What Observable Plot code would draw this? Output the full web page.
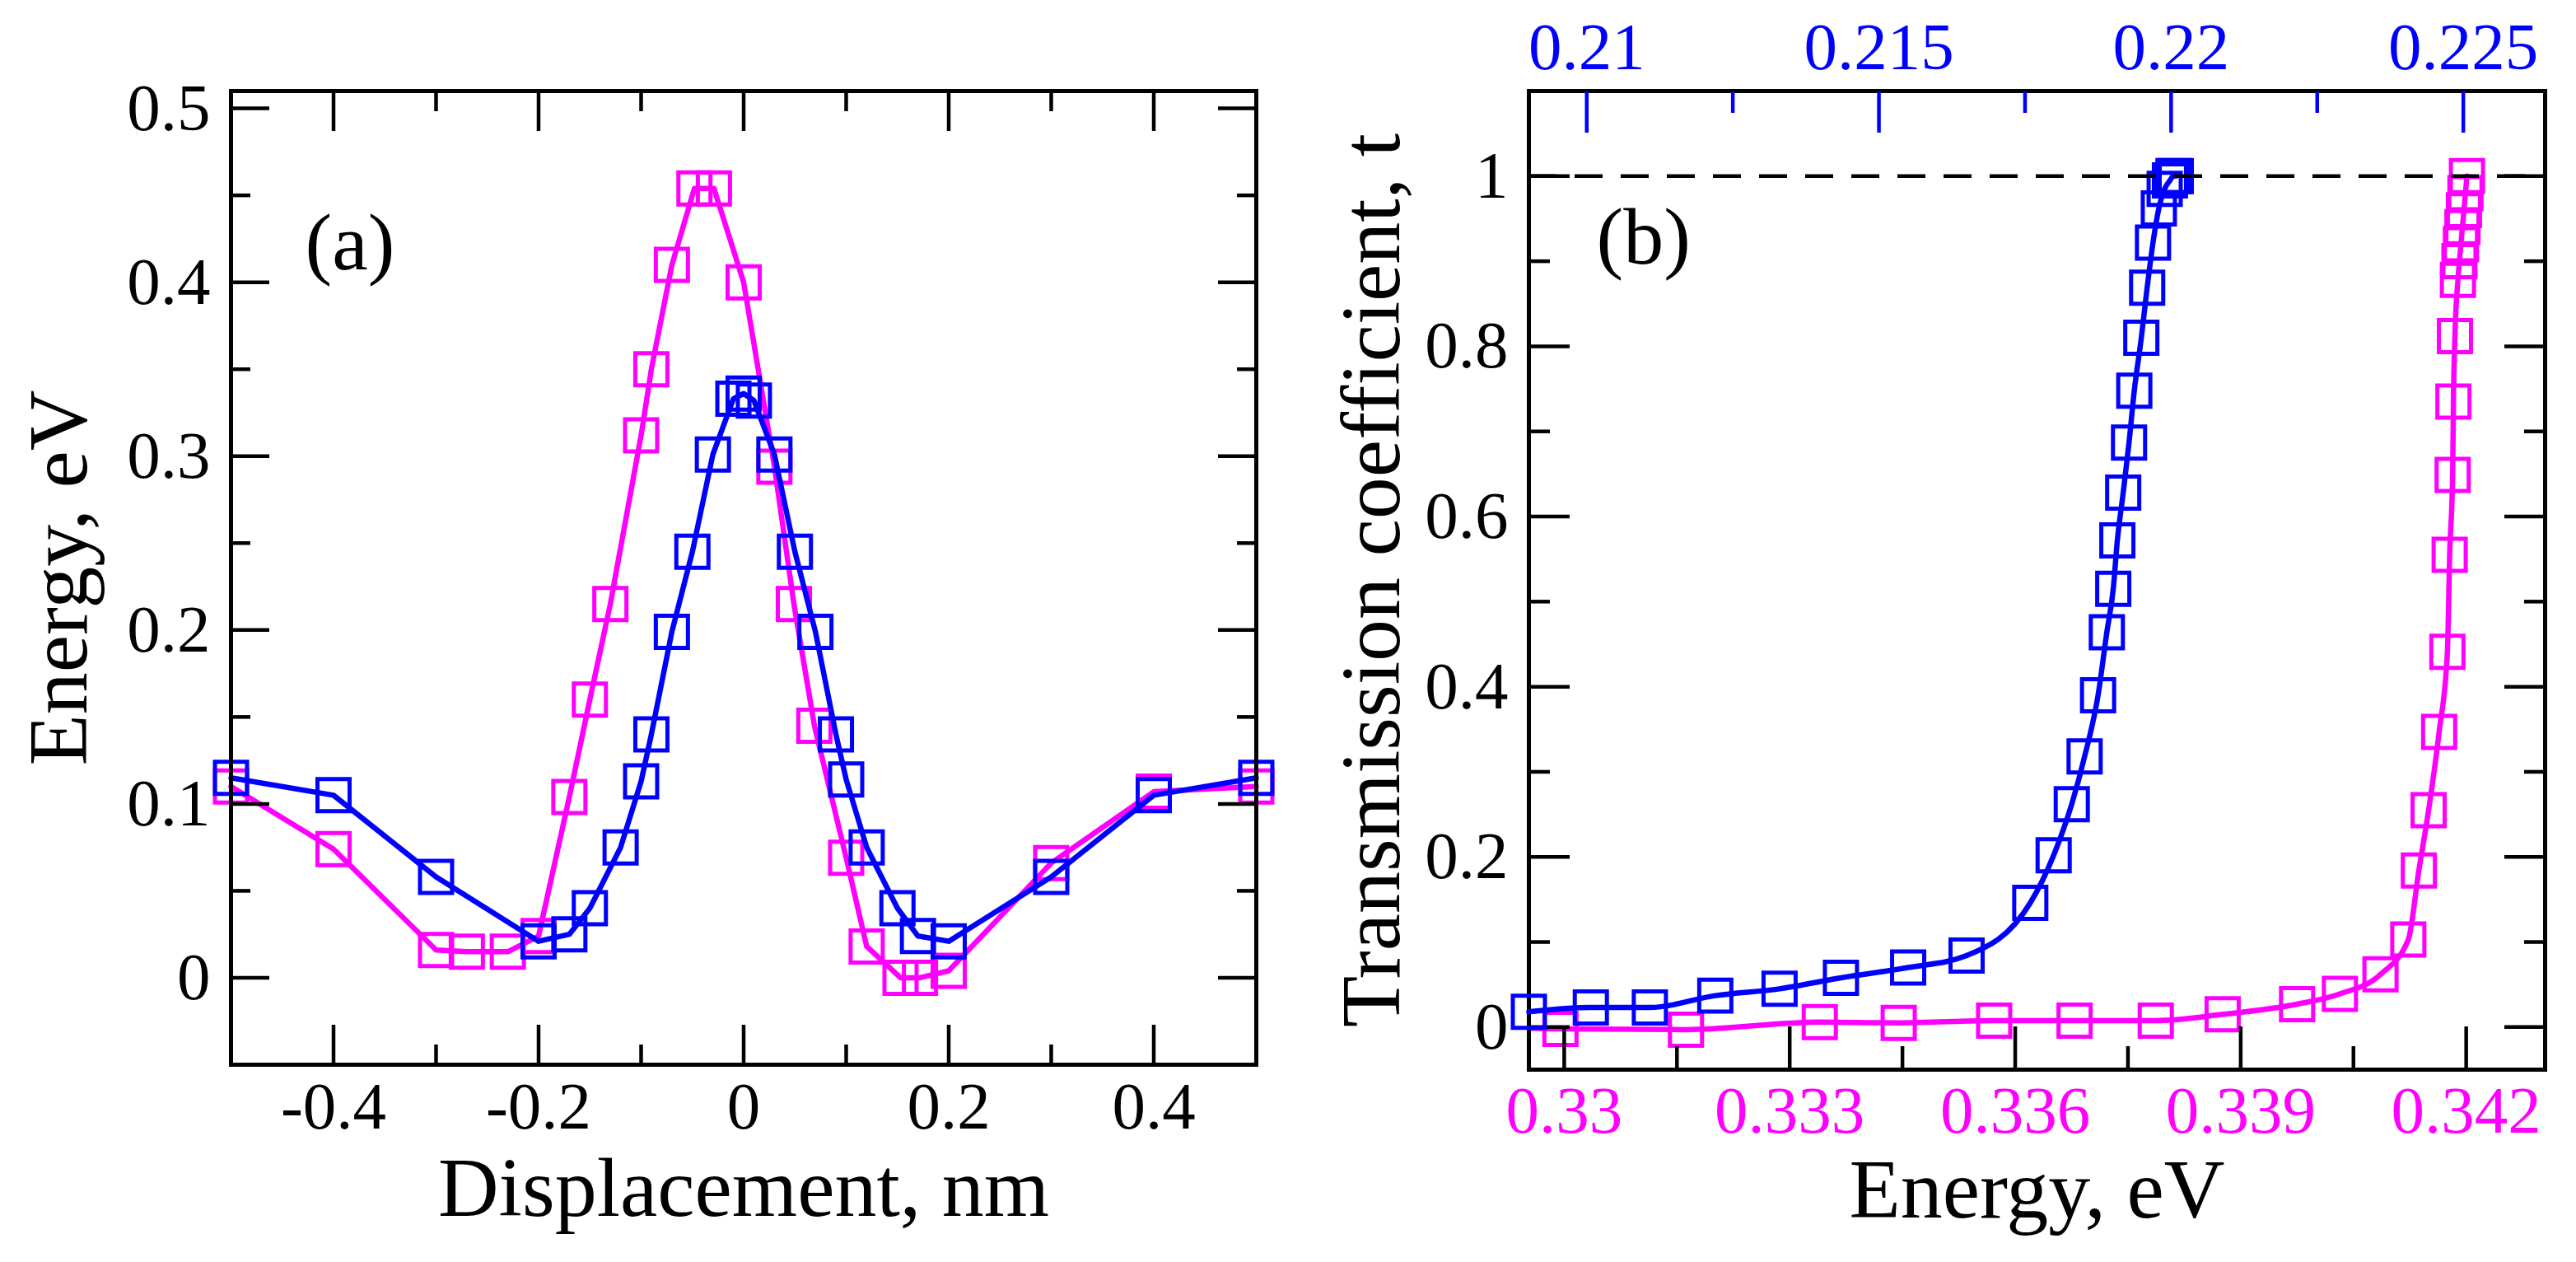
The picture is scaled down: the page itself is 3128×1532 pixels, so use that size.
<!DOCTYPE html>
<html>
<head>
<meta charset="utf-8">
<script src="https://cdn.jsdelivr.net/npm/d3@7"></script>
<script src="https://cdn.jsdelivr.net/npm/@observablehq/plot@0.6"></script>
<style>
  html, body { margin: 0; padding: 0; background: #ffffff; }
  #chart { position: relative; width: 3128px; height: 1532px; overflow: hidden; background: #ffffff; }
  #chart svg { position: absolute; top: 0; max-width: none; background: transparent; }
</style>
</head>
<body>
<div id="chart"></div>
<script>
const FONT = '"Liberation Serif", "Times New Roman", Times, serif';
const BLUE = "#0000ff";
const MAGENTA = "#ff00ff";

// ---------- Panel (a): energy profile vs displacement ----------
const dispBlue = [-0.5, -0.4, -0.3, -0.2, -0.17, -0.15, -0.12, -0.10, -0.09, -0.07, -0.05, -0.03, -0.01, 0.0, 0.01, 0.03, 0.05, 0.07, 0.09, 0.10, 0.12, 0.15, 0.17, 0.2, 0.3, 0.4, 0.5];
const energyBlue = [0.115, 0.105, 0.058, 0.021, 0.025, 0.040, 0.075, 0.113, 0.140, 0.199, 0.245, 0.301, 0.333, 0.336, 0.332, 0.301, 0.245, 0.199, 0.140, 0.114, 0.075, 0.040, 0.024, 0.021, 0.058, 0.105, 0.115];
const dispMagenta = [-0.5, -0.4, -0.3, -0.27, -0.23, -0.2, -0.17, -0.15, -0.13, -0.10, -0.09, -0.07, -0.048, -0.029, 0.0, 0.03, 0.049, 0.069, 0.10, 0.12, 0.153, 0.172, 0.2, 0.3, 0.4, 0.5];
const energyMagenta = [0.110, 0.074, 0.016, 0.015, 0.015, 0.024, 0.104, 0.160, 0.215, 0.312, 0.350, 0.410, 0.454, 0.454, 0.400, 0.294, 0.215, 0.145, 0.069, 0.018, 0.0, 0.0, 0.004, 0.066, 0.107, 0.110];
const dispTicks = [-0.4, -0.2, 0, 0.2, 0.4];
const dispMinorTicks = [-0.3, -0.1, 0.1, 0.3];
const energyTicksA = [0, 0.1, 0.2, 0.3, 0.4, 0.5];
const energyMinorTicksA = [0.05, 0.15, 0.25, 0.35, 0.45];
const titleXA = "Displacement, nm";
const titleYA = "Energy, eV";
const panelLabelA = "(a)";

// ---------- Panel (b): transmission coefficient vs energy ----------
// blue series uses the top (blue) energy axis
const energyTopBlue = [0.20901, 0.21007, 0.21108, 0.2122, 0.2133, 0.21435, 0.2155, 0.2165, 0.21759, 0.21799, 0.2183, 0.21852, 0.21875, 0.2189, 0.21901, 0.21908, 0.21918, 0.21928, 0.21937, 0.21949, 0.21959, 0.21969, 0.21979, 0.21989, 0.21998, 0.22004, 0.22008];
const transBlue = [0.018, 0.023, 0.023, 0.037, 0.045, 0.058, 0.070, 0.084, 0.146, 0.202, 0.262, 0.318, 0.390, 0.464, 0.515, 0.572, 0.628, 0.687, 0.748, 0.810, 0.869, 0.922, 0.962, 0.985, 0.995, 1.0, 1.0];
// magenta series uses the bottom (magenta) energy axis
const energyBottomMagenta = [0.3290, 0.32995, 0.33162, 0.3334, 0.33445, 0.33572, 0.33679, 0.33787, 0.33876, 0.33975, 0.34032, 0.34086, 0.34123, 0.34137, 0.3415, 0.34164, 0.34175, 0.34178, 0.34182, 0.34183, 0.34185, 0.34189, 0.34191, 0.34193, 0.34195, 0.34197, 0.34199, 0.34201];
const transMagenta = [0.0, -0.002, -0.003, 0.006, 0.005, 0.0077, 0.0077, 0.0077, 0.015, 0.027, 0.039, 0.062, 0.103, 0.184, 0.255, 0.347, 0.441, 0.555, 0.649, 0.735, 0.812, 0.878, 0.90, 0.92, 0.94, 0.96, 0.98, 1.0];
const topTicks = [0.21, 0.215, 0.22, 0.225];
const topMinorTicks = [0.2125, 0.2175, 0.2225];
const bottomTicks = [0.33, 0.333, 0.336, 0.339, 0.342];
const bottomMinorTicks = [0.3315, 0.3345, 0.3375, 0.3405];
const transTicks = [0, 0.2, 0.4, 0.6, 0.8, 1];
const transMinorTicks = [0.1, 0.3, 0.5, 0.7, 0.9];
const unitTransmission = [1];
const titleXB = "Energy, eV";
const titleYB = "Transmission coefficient, t";
const panelLabelB = "(b)";

// ---------- helpers ----------
const zip = (xs, ys) => xs.map((x, i) => ({x, y: ys[i]}));
function tickAxis(axisFn, anchor, values, size, color) {
  return axisFn({anchor, ticks: values, tickSize: -size, tickFormat: () => "", label: null,
    color, stroke: color, strokeWidth: 4.5});
}
function labelAxis(axisFn, anchor, values, padding, color) {
  return axisFn({anchor, ticks: values, tickSize: 0, tickPadding: padding, tickFormat: d => String(d),
    label: null, color, fill: color, fontSize: 81, fontFamily: FONT});
}
function series(data, color, opts = {}) {
  return [
    Plot.line(data, {x: "x", y: "y", stroke: color, strokeWidth: 6.5, curve: opts.curve || "linear", clip: !!opts.clip}),
    Plot.dot(data, {x: "x", y: "y", symbol: "square", r: 22, stroke: color, strokeWidth: 5, fill: "none", clip: !!opts.clip})
  ];
}
function title(textValue, frameAnchor, extra) {
  return Plot.text([textValue], {text: d => d, frameAnchor, textAnchor: "middle", lineAnchor: "middle",
    fontSize: 102, fontFamily: FONT, fill: "black", ...extra});
}
function panelLabel(textValue, extra) {
  return Plot.text([textValue], {text: d => d, frameAnchor: "top-left", textAnchor: "start", lineAnchor: "middle",
    fontSize: 98, fontFamily: FONT, fill: "black", ...extra});
}
const svgStyle = {fontFamily: FONT, background: "transparent", overflow: "visible"};

// ---------- Panel (a) ----------
const plotA = Plot.plot({
  width: 1560, height: 1532,
  marginLeft: 280, marginRight: 35, marginTop: 110, marginBottom: 240,
  style: svgStyle,
  x: {type: "linear", domain: [-0.5, 0.5]},
  y: {type: "linear", domain: [-0.05, 0.51]},
  marks: [
    ...series(zip(dispMagenta, energyMagenta), MAGENTA),
    ...series(zip(dispBlue, energyBlue), BLUE),
    tickAxis(Plot.axisX, "bottom", dispTicks, 48, "black"),
    tickAxis(Plot.axisX, "bottom", dispMinorTicks, 24, "black"),
    tickAxis(Plot.axisX, "top", dispTicks, 48, "black"),
    tickAxis(Plot.axisX, "top", dispMinorTicks, 24, "black"),
    tickAxis(Plot.axisY, "left", energyTicksA, 47, "black"),
    tickAxis(Plot.axisY, "left", energyMinorTicksA, 24, "black"),
    tickAxis(Plot.axisY, "right", energyTicksA, 47, "black"),
    tickAxis(Plot.axisY, "right", energyMinorTicksA, 24, "black"),
    labelAxis(Plot.axisX, "bottom", dispTicks, 20, "black"),
    labelAxis(Plot.axisY, "left", energyTicksA, 25, "black"),
    Plot.frame({stroke: "black", strokeWidth: 5}),
    title(titleXA, "bottom", {dy: 151}),
    title(titleYA, "left", {dx: -208, rotate: -90}),
    panelLabel(panelLabelA, {dx: 90, dy: 185})
  ]
});
plotA.style.left = "0px";

// ---------- Panel (b), bottom layer: magenta series on bottom axis ----------
const dimsB = {width: 1600, height: 1532, marginLeft: 328, marginRight: 38, marginTop: 110, marginBottom: 234};
const plotB1 = Plot.plot({
  ...dimsB,
  style: svgStyle,
  x: {type: "linear", domain: [0.32953, 0.34305]},
  y: {type: "linear", domain: [-0.05, 1.1]},
  marks: [
    ...series(zip(energyBottomMagenta, transMagenta), MAGENTA, {curve: "monotone-x", clip: true}),
    tickAxis(Plot.axisX, "bottom", bottomTicks, 52, "black"),
    tickAxis(Plot.axisX, "bottom", bottomMinorTicks, 28, "black"),
    tickAxis(Plot.axisY, "left", transTicks, 50, "black"),
    tickAxis(Plot.axisY, "left", transMinorTicks, 26, "black"),
    tickAxis(Plot.axisY, "right", transTicks, 50, "black"),
    tickAxis(Plot.axisY, "right", transMinorTicks, 26, "black"),
    labelAxis(Plot.axisX, "bottom", bottomTicks, 19, MAGENTA),
    labelAxis(Plot.axisY, "left", transTicks, 25, "black"),
    Plot.frame({stroke: "black", strokeWidth: 5}),
    title(titleXB, "bottom", {dy: 147}),
    title(titleYB, "left", {dx: -190, rotate: -90}),
    panelLabel(panelLabelB, {dx: 82, dy: 178})
  ]
});
plotB1.style.left = "1528px";

// ---------- Panel (b), top layer: blue series on top axis ----------
const plotB2 = Plot.plot({
  ...dimsB,
  style: svgStyle,
  x: {type: "linear", domain: [0.20901, 0.2264]},
  y: {type: "linear", domain: [-0.05, 1.1], axis: null},
  marks: [
    ...series(zip(energyTopBlue, transBlue), BLUE, {curve: "monotone-x"}),
    tickAxis(Plot.axisX, "top", topTicks, 50, BLUE),
    tickAxis(Plot.axisX, "top", topMinorTicks, 26, BLUE),
    labelAxis(Plot.axisX, "top", topTicks, 27, BLUE),
    Plot.ruleY(unitTransmission, {stroke: "black", strokeWidth: 4.5, strokeDasharray: "34,22"})
  ]
});
plotB2.style.left = "1528px";

const chart = document.getElementById("chart");
chart.append(plotA, plotB1, plotB2);
</script>
</body>
</html>
